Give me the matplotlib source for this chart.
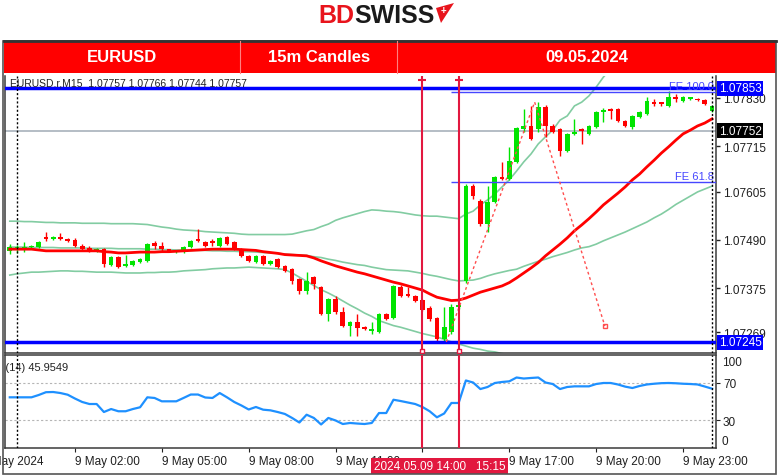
import numpy as np
import matplotlib.pyplot as plt
import matplotlib.transforms as mtransforms
from matplotlib.patches import Rectangle, Polygon
from matplotlib.lines import Line2D

W, H = 780, 477

# 15m bars, index -1 = 8 May 23:45 ... index 96 = 10 May 00:00
bar_start = -1
opens = [1.07464, 1.07466, 1.07466, 1.07473, 1.07473, 1.07497, 1.07492, 1.07497, 1.07492, 1.07490,
         1.07476, 1.07471, 1.07464, 1.07468, 1.07430, 1.07449, 1.07428, 1.07430, 1.07437, 1.07440,
         1.07483, 1.07476, 1.07466, 1.07461, 1.07461, 1.07473, 1.07490, 1.07485, 1.07485, 1.07476,
         1.07497, 1.07485, 1.07468, 1.07452, 1.07437, 1.07452, 1.07432, 1.07444, 1.07428, 1.07420,
         1.07397, 1.07368, 1.07401, 1.07377, 1.07313, 1.07349, 1.07318, 1.07284, 1.07294, 1.07282,
         1.07272, 1.07270, 1.07313, 1.07303, 1.07377, 1.07361, 1.07356, 1.07346, 1.07327, 1.07303,
         1.07253, 1.07270, 1.07330, 1.07392, 1.07619, 1.07583, 1.07528, 1.07581, 1.07641, 1.07636,
         1.07677, 1.07756, 1.07763, 1.07756, 1.07808, 1.07763, 1.07756, 1.07703, 1.07744, 1.07756,
         1.07744, 1.07760, 1.07796, 1.07801, 1.07804, 1.07775, 1.07760, 1.07784, 1.07792, 1.07818,
         1.07818, 1.07811, 1.07832, 1.07823, 1.07828, 1.07828, 1.07825, 1.07799]
highs = [1.07480, 1.07478, 1.07485, 1.07478, 1.07488, 1.07509, 1.07500, 1.07507, 1.07495, 1.07495,
         1.07480, 1.07476, 1.07471, 1.07471, 1.07452, 1.07452, 1.07454, 1.07442, 1.07447, 1.07483,
         1.07488, 1.07485, 1.07468, 1.07466, 1.07476, 1.07490, 1.07516, 1.07488, 1.07492, 1.07497,
         1.07500, 1.07488, 1.07471, 1.07454, 1.07454, 1.07454, 1.07442, 1.07447, 1.07430, 1.07423,
         1.07399, 1.07413, 1.07404, 1.07380, 1.07351, 1.07356, 1.07330, 1.07296, 1.07313, 1.07284,
         1.07294, 1.07315, 1.07315, 1.07382, 1.07382, 1.07377, 1.07358, 1.07349, 1.07332, 1.07306,
         1.07330, 1.07337, 1.07337, 1.07624, 1.07624, 1.07588, 1.07619, 1.07643, 1.07677, 1.07713,
         1.07760, 1.07804, 1.07811, 1.07820, 1.07813, 1.07768, 1.07758, 1.07746, 1.07780, 1.07758,
         1.07765, 1.07799, 1.07806, 1.07806, 1.07806, 1.07777, 1.07789, 1.07799, 1.07832, 1.07828,
         1.07820, 1.07847, 1.07839, 1.07835, 1.07830, 1.07830, 1.07828, 1.07813]
lows = [1.07456, 1.07459, 1.07461, 1.07471, 1.07471, 1.07488, 1.07490, 1.07490, 1.07485, 1.07473,
        1.07466, 1.07461, 1.07461, 1.07425, 1.07428, 1.07423, 1.07425, 1.07428, 1.07435, 1.07437,
        1.07468, 1.07461, 1.07461, 1.07459, 1.07459, 1.07471, 1.07485, 1.07473, 1.07476, 1.07473,
        1.07478, 1.07466, 1.07449, 1.07437, 1.07435, 1.07430, 1.07430, 1.07423, 1.07413, 1.07385,
        1.07361, 1.07361, 1.07373, 1.07310, 1.07296, 1.07313, 1.07282, 1.07260, 1.07260, 1.07275,
        1.07265, 1.07267, 1.07298, 1.07301, 1.07354, 1.07354, 1.07342, 1.07320, 1.07296, 1.07248,
        1.07246, 1.07265, 1.07325, 1.07387, 1.07588, 1.07524, 1.07509, 1.07579, 1.07634, 1.07634,
        1.07674, 1.07748, 1.07730, 1.07748, 1.07736, 1.07746, 1.07691, 1.07701, 1.07741, 1.07720,
        1.07741, 1.07758, 1.07772, 1.07780, 1.07772, 1.07760, 1.07756, 1.07782, 1.07789, 1.07811,
        1.07811, 1.07808, 1.07820, 1.07820, 1.07825, 1.07823, 1.07813, 1.07796]
closes = [1.07473, 1.07473, 1.07473, 1.07476, 1.07485, 1.07492, 1.07497, 1.07492, 1.07488, 1.07476,
          1.07468, 1.07464, 1.07468, 1.07432, 1.07449, 1.07425, 1.07432, 1.07440, 1.07444, 1.07480,
          1.07476, 1.07468, 1.07464, 1.07464, 1.07473, 1.07488, 1.07488, 1.07476, 1.07483, 1.07495,
          1.07480, 1.07468, 1.07452, 1.07440, 1.07452, 1.07432, 1.07440, 1.07425, 1.07416, 1.07392,
          1.07368, 1.07392, 1.07385, 1.07313, 1.07349, 1.07318, 1.07284, 1.07294, 1.07279, 1.07277,
          1.07277, 1.07313, 1.07301, 1.07380, 1.07356, 1.07356, 1.07344, 1.07322, 1.07301, 1.07253,
          1.07282, 1.07330, 1.07332, 1.07619, 1.07595, 1.07528, 1.07581, 1.07641, 1.07636, 1.07679,
          1.07758, 1.07763, 1.07732, 1.07808, 1.07763, 1.07748, 1.07703, 1.07744, 1.07748, 1.07751,
          1.07763, 1.07796, 1.07801, 1.07799, 1.07775, 1.07763, 1.07787, 1.07796, 1.07823, 1.07816,
          1.07816, 1.07832, 1.07828, 1.07832, 1.07830, 1.07825, 1.07816, 1.07811]

ma_red = [1.07468, 1.07468, 1.07468, 1.07468, 1.07466, 1.07464, 1.07464, 1.07464, 1.07464, 1.07464,
          1.07464, 1.07464, 1.07464, 1.07462, 1.07461, 1.07459, 1.07459, 1.07460, 1.07461, 1.07461,
          1.07461, 1.07462, 1.07462, 1.07463, 1.07464, 1.07465, 1.07466, 1.07467, 1.07468, 1.07468,
          1.07468, 1.07468, 1.07467, 1.07466, 1.07465, 1.07462, 1.07460, 1.07458, 1.07455, 1.07454,
          1.07453, 1.07452, 1.07447, 1.07440, 1.07434, 1.07428, 1.07423, 1.07418, 1.07413, 1.07409,
          1.07404, 1.07399, 1.07394, 1.07389, 1.07385, 1.07380, 1.07375, 1.07370, 1.07361, 1.07353,
          1.07349, 1.07345, 1.07346, 1.07351, 1.07358, 1.07365, 1.07370, 1.07375, 1.07380, 1.07388,
          1.07399, 1.07411, 1.07423, 1.07436, 1.07452, 1.07466, 1.07480, 1.07495, 1.07512, 1.07526,
          1.07541, 1.07557, 1.07574, 1.07588, 1.07602, 1.07617, 1.07634, 1.07648, 1.07665, 1.07681,
          1.07698, 1.07713, 1.07729, 1.07744, 1.07753, 1.07763, 1.07770, 1.07780]

# Bollinger bands (upper / lower leave the chart, so they stop early)
bb_upper = [1.07535, 1.07535, 1.07534, 1.07534, 1.07533, 1.07532, 1.07532, 1.07531, 1.07531, 1.07531,
            1.07530, 1.07530, 1.07530, 1.07530, 1.07529, 1.07529, 1.07529, 1.07529, 1.07528, 1.07527,
            1.07524, 1.07521, 1.07519, 1.07516, 1.07514, 1.07513, 1.07512, 1.07510, 1.07509, 1.07508,
            1.07507, 1.07506, 1.07504, 1.07503, 1.07503, 1.07503, 1.07503, 1.07503, 1.07503, 1.07504,
            1.07508, 1.07512, 1.07515, 1.07522, 1.07528, 1.07537, 1.07543, 1.07548, 1.07553, 1.07558,
            1.07562, 1.07561, 1.07559, 1.07558, 1.07556, 1.07553, 1.07550, 1.07548, 1.07547, 1.07547,
            1.07545, 1.07543, 1.07541, 1.07552, 1.07559, 1.07574, 1.07586, 1.07600, 1.07617, 1.07634,
            1.07655, 1.07677, 1.07696, 1.07720, 1.07737, 1.07753, 1.07777, 1.07787, 1.07811, 1.07820,
            1.07835, 1.07856, 1.07880, 1.07899]
bb_middle = [1.07473, 1.07473, 1.07473, 1.07472, 1.07472, 1.07472, 1.07472, 1.07471, 1.07471, 1.07471,
             1.07471, 1.07470, 1.07470, 1.07470, 1.07470, 1.07469, 1.07469, 1.07469, 1.07469, 1.07468,
             1.07468, 1.07467, 1.07467, 1.07466, 1.07466, 1.07465, 1.07465, 1.07465, 1.07464, 1.07464,
             1.07463, 1.07463, 1.07462, 1.07462, 1.07461, 1.07460, 1.07459, 1.07458, 1.07456, 1.07455,
             1.07454, 1.07453, 1.07450, 1.07448, 1.07444, 1.07441, 1.07437, 1.07434, 1.07431, 1.07429,
             1.07425, 1.07422, 1.07419, 1.07418, 1.07417, 1.07416, 1.07413, 1.07410, 1.07406, 1.07403,
             1.07399, 1.07395, 1.07392, 1.07393, 1.07394, 1.07398, 1.07404, 1.07409, 1.07413, 1.07417,
             1.07420, 1.07427, 1.07433, 1.07439, 1.07444, 1.07450, 1.07455, 1.07460, 1.07466, 1.07471,
             1.07474, 1.07480, 1.07488, 1.07495, 1.07502, 1.07509, 1.07517, 1.07525, 1.07533, 1.07543,
             1.07552, 1.07563, 1.07575, 1.07585, 1.07595, 1.07605, 1.07612, 1.07619]
bb_lower = [1.07406, 1.07409, 1.07411, 1.07413, 1.07413, 1.07414, 1.07415, 1.07416, 1.07416, 1.07415,
            1.07415, 1.07414, 1.07413, 1.07413, 1.07413, 1.07412, 1.07411, 1.07411, 1.07411, 1.07412,
            1.07412, 1.07413, 1.07413, 1.07414, 1.07416, 1.07417, 1.07418, 1.07419, 1.07421, 1.07422,
            1.07423, 1.07423, 1.07424, 1.07425, 1.07424, 1.07423, 1.07422, 1.07421, 1.07419, 1.07411,
            1.07401, 1.07391, 1.07381, 1.07371, 1.07363, 1.07354, 1.07344, 1.07334, 1.07325, 1.07315,
            1.07307, 1.07297, 1.07291, 1.07285, 1.07281, 1.07276, 1.07271, 1.07266, 1.07262, 1.07258,
            1.07252, 1.07246, 1.07241, 1.07236, 1.07231, 1.07228, 1.07224, 1.07222, 1.07218, 1.07215]

rsi = [54.5, 54.5, 54.5, 54.5, 57.0, 60.0, 60.2, 59.1, 57.3, 53.2,
       49.5, 47.3, 47.3, 38.7, 41.9, 39.5, 39.5, 41.9, 43.8, 54.5,
       53.8, 50.2, 50.2, 50.2, 53.8, 57.5, 57.5, 54.3, 53.8, 59.1,
       54.5, 49.5, 45.7, 41.4, 44.1, 41.2, 40.5, 38.7, 36.6, 32.3,
       27.4, 35.8, 32.3, 25.3, 32.3, 29.6, 25.8, 26.9, 26.3, 25.8,
       26.9, 37.6, 37.6, 51.9, 50.5, 48.9, 47.3, 44.1, 39.5, 33.0,
       37.1, 48.4, 48.4, 72.6, 70.4, 63.4, 65.6, 69.9, 71.0, 71.7,
       75.8, 74.7, 75.3, 75.8, 70.4, 68.8, 63.4, 65.6, 66.3, 66.3,
       66.3, 68.8, 69.9, 69.9, 68.3, 66.0, 64.5, 66.7, 68.3, 69.1,
       69.7, 69.9, 69.6, 69.1, 68.8, 68.3, 66.1, 63.8]

level_high = 1.07853
level_low = 1.07245
bid = 1.07752
fe_levels = [1.07844, 1.07629]
fe_names = ['FE 100.0', 'FE 61.8']
fe_points_bar = [59.3, 71.5, 81.2]
fe_points_price = [1.07246, 1.07820, 1.07284]
price_ticks = [1.07830, 1.07715, 1.07605, 1.07490, 1.07375, 1.07269]

tick_hours = [2, 5, 8, 11, 14, 17, 20, 23]
# the 14:00 label is hidden behind the highlighted vertical-line label
tick_labels = ['9 May 02:00', '9 May 05:00', '9 May 08:00', '9 May 11:00',
               '', '9 May 17:00', '9 May 20:00', '9 May 23:00']
vline_hours = [14.0, 15.25]

plt.rcParams['font.family'] = ['Liberation Sans', 'DejaVu Sans']


def fx(px):
    return px / W


def fy(py):
    return 1 - py / H


fig = plt.figure(figsize=(7.8, 4.77), dpi=100)
fig.patch.set_facecolor('white')

# --- logo and red header bar ---
fig.text(fx(318), fy(16), 'BD', color='#e8141c', fontsize=18, fontweight='bold', ha='left', va='center')
fig.text(fx(354), fy(16), 'SWISS', color='#1a1a1a', fontsize=18, fontweight='bold', ha='left', va='center')
fig.add_artist(Polygon([(fx(436), fy(9)), (fx(454), fy(4)), (fx(441), fy(24))], closed=True,
                       transform=fig.transFigure, fc='#e8141c', ec='none'))
fig.text(fx(443), fy(11), '+', color='white', fontsize=7, fontweight='bold', ha='center', va='center')

fig.add_artist(Rectangle((fx(4), fy(74)), 772 / W, 32 / H, transform=fig.transFigure, fc='#ff0000', ec='none'))
fig.add_artist(Line2D([fx(4), fx(776)], [fy(41.5), fy(41.5)], transform=fig.transFigure, color='#333333', lw=2))
for sx in [240, 397]:
    fig.add_artist(Line2D([fx(sx), fx(sx)], [fy(42), fy(74)], transform=fig.transFigure, color='#ff8080', lw=0.8))
for txt, cx in [('EURUSD', 122), ('15m Candles', 319), ('09.05.2024', 587)]:
    fig.text(fx(cx), fy(58), txt, color='white', fontsize=12, fontweight='bold', ha='center', va='center')

# outer window frame
fig.add_artist(Rectangle((fx(3.5), fy(475)), 772 / W, 433 / H, transform=fig.transFigure,
                         fill=False, ec='#555555', lw=1.2))

# --- panels ---
ax = fig.add_axes([fx(5), fy(354), 711 / W, 277 / H])
ax2 = fig.add_axes([fx(5), fy(449), 711 / W, 93 / H], sharex=ax)

bars = np.arange(bar_start, bar_start + len(opens))
o = np.array(opens)
h = np.array(highs)
l = np.array(lows)
c = np.array(closes)
up = c >= o
cols = np.where(up, '#00e400', '#ff0000')

# bollinger bands, MA, candles
bb_col = '#82cca2'
ax.plot(bars[:len(bb_upper)], bb_upper, color=bb_col, lw=1.2, zorder=2)
ax.plot(bars, bb_middle, color=bb_col, lw=1.2, zorder=2)
ax.plot(bars[:len(bb_lower)], bb_lower, color=bb_col, lw=1.2, zorder=2)

ax.vlines(bars, l, h, colors=cols, lw=1, zorder=3)
body_low = np.minimum(o, c)
body_h = np.maximum(np.abs(c - o), 0.000035)
ax.bar(bars, body_h, bottom=body_low, width=0.65, color=cols, lw=0, zorder=3)

ax.plot(bars, ma_red, color='#ff0000', lw=2, zorder=4)

# horizontal levels
ax.axhline(level_high, color='#0000ff', lw=2.5, zorder=5)
ax.axhline(level_low, color='#0000ff', lw=2.5, zorder=5)
ax.axhline(bid, color='#a8b2bb', lw=1.2, zorder=1)

xmin, xmax = -1.66, 96.55
fe_start = 60
ax.hlines(fe_levels, fe_start, xmax, colors='#4646ff', lw=1, zorder=5)
for lev, name in zip(fe_levels, fe_names):
    ax.text(96.3, lev + 0.00003, name, color='#4646ff', fontsize=8, ha='right', va='bottom', zorder=6)

# fibo expansion dotted path
ax.plot(fe_points_bar, fe_points_price, color='#ff4d4d', lw=1, ls=(0, (2, 2)), zorder=5)
ax.plot(fe_points_bar[-1], fe_points_price[-1], 's', ms=3.5, mfc='none', mec='#ff4d4d', zorder=5)

# day separators and selected vertical lines
vline_bars = [hr * 4 for hr in vline_hours]
crimson = '#e2183f'
for a in (ax, ax2):
    for sep in (0, 96):
        a.axvline(sep, color='black', lw=1, ls=(0, (1.5, 1.5)), zorder=6)
    for vb in vline_bars:
        a.axvline(vb, color=crimson, lw=1.5, zorder=7)

trans = mtransforms.blended_transform_factory(ax.transData, ax.transAxes)
for vb in vline_bars:
    ax.plot([vb], [0.985], marker='_', ms=6, mew=1.5, color=crimson, transform=trans, clip_on=False, zorder=8)
    ax.plot([vb], [0.008], marker='s', ms=3.5, mfc='white', mec=crimson, transform=trans, clip_on=False, zorder=8)

ax.text(0.007, 0.975, 'EURUSD.r,M15  1.07757 1.07766 1.07744 1.07757', transform=ax.transAxes,
        fontsize=7.5, color='#222222', ha='left', va='center', zorder=9)

ax.set_xlim(xmin, xmax)
ax.set_ylim(1.072194, 1.078826)
ax.yaxis.tick_right()
ax.set_yticks(price_ticks)
ax.set_yticklabels(['%.5f' % p for p in price_ticks])
ax.tick_params(axis='y', length=3, width=1, labelsize=8.5, pad=2, colors='#202020')
ax.tick_params(axis='x', bottom=False, labelbottom=False)

ytrans = mtransforms.blended_transform_factory(ax.transAxes, ax.transData)
for val, fc in [(level_high, '#0000ff'), (bid, '#000000'), (level_low, '#0000ff')]:
    ax.text(1.004, val, '%.5f' % val, transform=ytrans, ha='left', va='center', color='white',
            fontsize=8.5, zorder=10, clip_on=False,
            bbox=dict(boxstyle='square,pad=0.15', fc=fc, ec='none'))

# --- RSI panel ---
ax2.plot(bars, rsi, color='#1e90ff', lw=1.6, zorder=3)
for lv in (30, 70):
    ax2.axhline(lv, color='#b5b5b5', lw=0.8, ls=(0, (2, 2)), zorder=1)
ax2.set_ylim(0, 100)
ax2.yaxis.tick_right()
ax2.set_yticks([30, 70])
ax2.set_yticklabels(['30', '70'])
ax2.tick_params(axis='y', length=3, labelsize=8.5, pad=2, colors='#202020')
rtrans = mtransforms.blended_transform_factory(ax2.transAxes, ax2.transData)
ax2.text(1.008, 99, '100', transform=rtrans, ha='left', va='top', fontsize=8.5, color='#202020', clip_on=False)
ax2.text(1.008, 1, '0', transform=rtrans, ha='left', va='bottom', fontsize=8.5, color='#202020', clip_on=False)
ax2.text(-0.026, 0.87, 'RSI(14) 45.9549', transform=ax2.transAxes, fontsize=8, color='#222222',
         ha='left', va='center', clip_on=True)

tick_bars = [hr * 4 for hr in tick_hours]
ax2.set_xticks(tick_bars)
ax2.set_xticklabels(tick_labels, ha='left')
ax2.tick_params(axis='x', length=3, labelsize=8.5, pad=2, colors='#202020')

xtrans = mtransforms.blended_transform_factory(ax2.transData, ax2.transAxes)
ax2.text(3.7, -0.14, '9 May 2024', transform=xtrans, ha='right', va='center', fontsize=8.5,
         color='#202020', clip_on=False)
ax2.annotate('2024.05.09 14:00   15:15', xy=(vline_bars[0], 0), xycoords=xtrans,
             xytext=(-35, -13), textcoords='offset points', ha='left', va='center',
             fontsize=8.5, color='white', zorder=10, annotation_clip=False,
             bbox=dict(boxstyle='square,pad=0.2', fc=crimson, ec='none'))

for a in (ax, ax2):
    for side in ('left', 'right', 'bottom', 'top'):
        a.spines[side].set_color('#3a3a3a')
        a.spines[side].set_linewidth(1.1)
ax.spines['top'].set_visible(False)

fig.savefig('out.png', dpi=100, facecolor='white')
